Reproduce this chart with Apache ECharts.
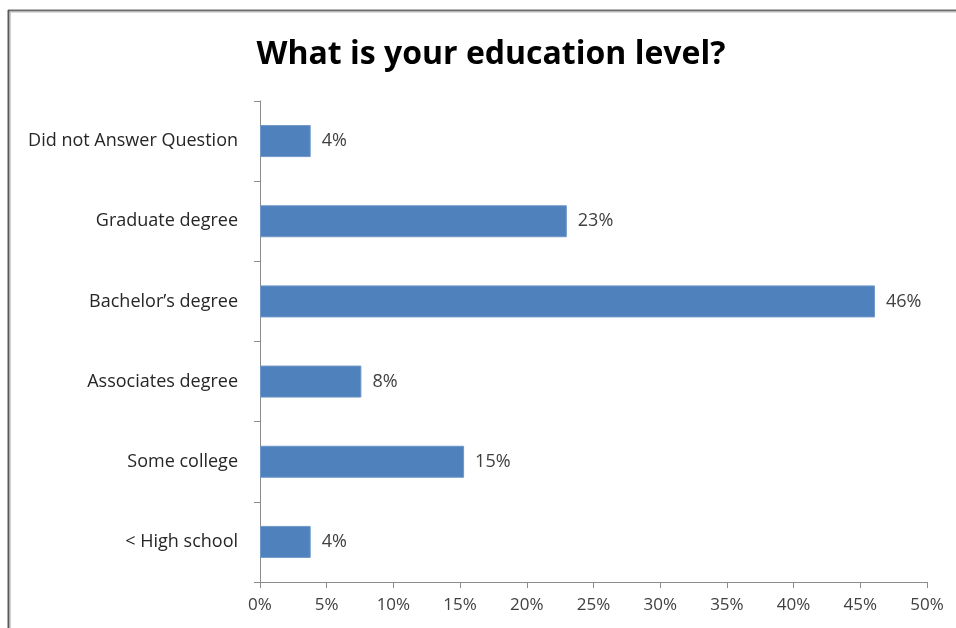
<!DOCTYPE html>
<html>
<head>
<meta charset="utf-8">
<script src="https://cdn.jsdelivr.net/npm/echarts@6/dist/echarts.min.js"></script>
<style>
  html, body { margin: 0; padding: 0; background: #fff; }
  #chart { width: 956px; height: 628px; }
</style>
</head>
<body>
<div id="chart"></div>
<script>
// Survey responses, bottom to top as listed on the category axis
const categories = ['< High school', 'Some college', 'Associates degree', "Bachelor\u2019s degree", 'Graduate degree', 'Did not Answer Question'];
const shares = [3.8, 15.3, 7.6, 46.1, 23.0, 3.8];
const percentTicks = [0, 5, 10, 15, 20, 25, 30, 35, 40, 45, 50];

const FONT = '"Open Sans", "Liberation Sans", sans-serif';
const chart = echarts.init(document.getElementById('chart'), null, { renderer: 'canvas' });

chart.setOption({
  backgroundColor: '#ffffff',
  animation: false,
  title: {
    text: 'What is your education level?',
    left: 486,
    top: 34,
    textAlign: 'center',
    textStyle: { fontFamily: FONT, fontWeight: 'bold', fontSize: 32, color: '#000000' }
  },
  graphic: [
    // frame lines along the top and left edges
    { type: 'line', shape: { x1: 8, y1: 10.5, x2: 956, y2: 10.5 }, style: { stroke: '#6e6e6e', lineWidth: 2 } },
    { type: 'line', shape: { x1: 8.5, y1: 10, x2: 8.5, y2: 628 }, style: { stroke: '#5a5a5a', lineWidth: 2 } },
    { type: 'line', shape: { x1: 10, y1: 12.5, x2: 956, y2: 12.5 }, style: { stroke: '#dcdcdc', lineWidth: 1 } },
    { type: 'line', shape: { x1: 10.5, y1: 12, x2: 10.5, y2: 628 }, style: { stroke: '#d0d0d0', lineWidth: 1 } }
  ],
  grid: { left: 260, right: 29, top: 101, bottom: 46, containLabel: false },
  xAxis: {
    type: 'value',
    min: percentTicks[0],
    max: percentTicks[percentTicks.length - 1],
    interval: 5,
    splitLine: { show: false },
    axisLine: { show: true, lineStyle: { color: '#8c8c8c', width: 1 } },
    axisTick: { show: true, length: 6, lineStyle: { color: '#8c8c8c' } },
    axisLabel: {
      margin: 15,
      fontFamily: FONT, fontSize: 17, color: '#404040',
      formatter: v => v + '%'
    }
  },
  yAxis: {
    type: 'category',
    data: categories,
    axisLine: { show: true, lineStyle: { color: '#8c8c8c', width: 1 } },
    axisTick: { show: true, length: 6, alignWithLabel: false, lineStyle: { color: '#8c8c8c' } },
    axisLabel: { margin: 22, fontFamily: FONT, fontSize: 18, color: '#262626' }
  },
  series: [{
    type: 'bar',
    data: shares,
    barWidth: 32,
    itemStyle: { color: '#4f81bd', borderColor: '#6f97c9', borderWidth: 1 },
    label: {
      show: true,
      position: 'right',
      distance: 11,
      fontFamily: FONT, fontSize: 18, color: '#404040',
      formatter: p => Math.round(p.value) + '%'
    }
  }]
});
</script>
</body>
</html>
